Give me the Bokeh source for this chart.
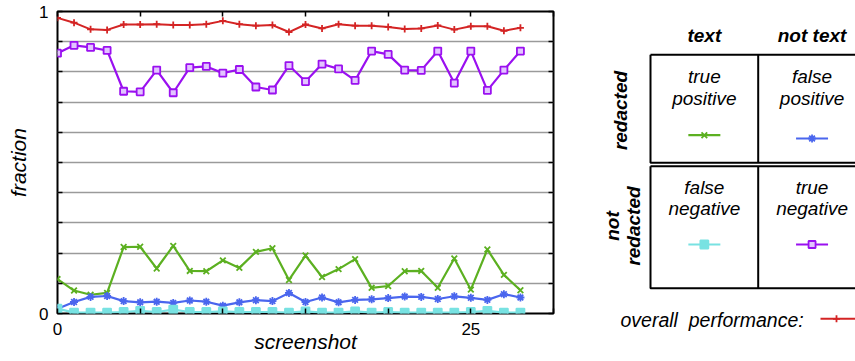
from bokeh.plotting import figure
from bokeh.models import Range1d, FixedTicker, LinearAxis
from bokeh.layouts import row
from bokeh.embed import file_html
from bokeh.resources import INLINE
from bokeh.core.properties import value

# ---------------- data ----------------
screenshot = list(range(29))
overall = [0.979, 0.963, 0.941, 0.939, 0.957, 0.957, 0.958, 0.955, 0.955, 0.958,
           0.969, 0.958, 0.953, 0.955, 0.932, 0.957, 0.944, 0.958, 0.953, 0.953,
           0.949, 0.942, 0.944, 0.954, 0.940, 0.951, 0.951, 0.936, 0.946]
true_negative = [0.862, 0.888, 0.881, 0.871, 0.736, 0.734, 0.806, 0.731, 0.814, 0.818,
                 0.796, 0.808, 0.750, 0.740, 0.821, 0.768, 0.826, 0.810, 0.772, 0.869,
                 0.858, 0.806, 0.805, 0.869, 0.763, 0.869, 0.739, 0.806, 0.869]
true_positive = [0.114, 0.076, 0.062, 0.068, 0.220, 0.221, 0.149, 0.224, 0.141, 0.140,
                 0.176, 0.151, 0.204, 0.216, 0.111, 0.192, 0.121, 0.147, 0.180, 0.085,
                 0.091, 0.140, 0.141, 0.085, 0.182, 0.079, 0.212, 0.128, 0.077]
false_positive = [0.016, 0.038, 0.055, 0.058, 0.041, 0.037, 0.039, 0.035, 0.043, 0.039,
                  0.026, 0.037, 0.044, 0.041, 0.068, 0.038, 0.053, 0.037, 0.045, 0.047,
                  0.051, 0.056, 0.055, 0.048, 0.057, 0.052, 0.045, 0.064, 0.053]
false_negative = [0.016, 0.003, 0.003, 0.003, 0.005, 0.009, 0.005, 0.013, 0.005, 0.005,
                  0.007, 0.005, 0.005, 0.005, 0.003, 0.007, 0.003, 0.003, 0.007, 0.003,
                  0.005, 0.003, 0.003, 0.003, 0.003, 0.005, 0.009, 0.003, 0.003]

x_ticks = [0, 5, 10, 15, 20, 25, 30]
x_tick_labels = ["0", "", "", "", "", "25", ""]
y_ticks = [0, 0.1, 0.2, 0.3, 0.4, 0.5, 0.6, 0.7, 0.8, 0.9, 1]
y_tick_labels = ["0", "", "", "", "", "", "", "", "", "", "1"]

col_headers = ["text", "not text"]
row_headers = [["redacted"], ["not", "redacted"]]
cell_texts = [["true", "positive"], ["false", "positive"],
              ["false", "negative"], ["true", "negative"]]
overall_label = "overall\u00a0 performance:"

FONT = "Liberation Sans"

styles = {
    "tp": dict(color="#5cb021", marker="x", size=8, lw=2.2, fill="#5cb021"),
    "fp": dict(color="#4a66ee", marker="asterisk", size=8, lw=2.2, fill="#4a66ee"),
    "fn": dict(color="#78e2e2", marker="square", size=8, lw=2.2, fill="#78e2e2"),
    "tn": dict(color="#9a10f0", marker="square", size=7, lw=2.2, fill="#e2c4ff"),
    "ov": dict(color="#d42424", marker="cross", size=7, lw=2.0, fill="#d42424"),
}
series = [("tp", true_positive), ("fp", false_positive), ("fn", false_negative),
          ("tn", true_negative), ("ov", overall)]

TOTAL_W, TOTAL_H = 855, 361
W1 = 560

# ---------------- main plot ----------------
p = figure(width=W1, height=TOTAL_H, x_range=Range1d(0, 30), y_range=Range1d(0, 1),
           output_backend="svg", toolbar_location=None,
           min_border_left=57, min_border_right=7, min_border_top=11, min_border_bottom=48)
p.frame_align = False
p.outline_line_color = "black"
p.outline_line_width = 2
p.background_fill_color = "white"
p.border_fill_color = "white"

p.xgrid.visible = False
p.ygrid.ticker = FixedTicker(ticks=y_ticks)
p.ygrid.grid_line_color = "#9a9a9a"
p.ygrid.grid_line_width = 1.5

for ax, ticks, labels in ((p.xaxis[0], x_ticks, x_tick_labels), (p.yaxis[0], y_ticks, y_tick_labels)):
    ax.ticker = FixedTicker(ticks=ticks)
    ax.major_label_overrides = dict(zip(ticks, labels))
    ax.major_tick_in = 5
    ax.major_tick_out = 0
    ax.major_tick_line_color = "black"
    ax.major_tick_line_width = 1.5
    ax.minor_tick_line_color = None
    ax.axis_line_color = None
    ax.major_label_text_font = FONT
    ax.major_label_text_font_size = "17px"
    ax.major_label_text_color = "black"
    ax.major_label_standoff = 9
    ax.axis_label_text_font = FONT
    ax.axis_label_text_font_style = "italic"
    ax.axis_label_text_font_size = "21px"
    ax.axis_label_text_color = "black"

p.xaxis.axis_label = "screenshot"
p.xaxis.axis_label_standoff = -8
p.yaxis.axis_label = "fraction"
p.yaxis.axis_label_standoff = 6

for side, ticks in (("above", x_ticks), ("right", y_ticks)):
    ax = LinearAxis(ticker=FixedTicker(ticks=ticks), major_tick_in=5, major_tick_out=0,
                    major_tick_line_width=1.5, minor_tick_line_color=None,
                    axis_line_color=None, major_label_text_font_size="0px",
                    major_label_standoff=0)
    p.add_layout(ax, side)

for key, vals in series:
    s = styles[key]
    p.line(screenshot, vals, line_color=s["color"], line_width=s["lw"])
    p.scatter(screenshot, vals, marker=s["marker"], size=s["size"],
              line_color=s["color"], fill_color=s["fill"], line_width=1.8)

# ---------------- legend table ----------------
LW, LH = TOTAL_W - W1, TOTAL_H
q = figure(width=LW, height=LH, x_range=Range1d(0, LW), y_range=Range1d(LH, 0),
           output_backend="svg", toolbar_location=None,
           x_axis_location=None, y_axis_location=None,
           min_border=0, min_border_left=0, min_border_right=0,
           min_border_top=0, min_border_bottom=0)
q.frame_align = False
q.grid.visible = False
q.outline_line_color = None

tbl_left, tbl_mid, tbl_right = 90, 197.7, 305.4
row_tops = [54.3, 165.7]
row_bots = [162.3, 287.7]
col_centers = [(tbl_left + tbl_mid) / 2, (tbl_mid + tbl_right) / 2]

# column headers
q.text(x=col_centers, y=[34.7, 34.7], text=col_headers,
       text_font=value(FONT), text_font_style="bold italic", text_font_size="19px",
       text_align="center", text_baseline="middle", text_color="black")

# boxes
for top, bot in zip(row_tops, row_bots):
    q.multi_line(xs=[[tbl_left, tbl_right, tbl_right, tbl_left, tbl_left], [tbl_mid, tbl_mid]],
                 ys=[[top, top, bot, bot, top], [top, bot]],
                 line_color="black", line_width=2)

# row headers (rotated)
q.text(x=[60], y=[110], text=row_headers[0],
       angle=1.5708, text_font=value(FONT), text_font_style="bold italic",
       text_font_size="19px", text_align="center", text_baseline="middle", text_color="black")
q.text(x=[51.7, 73.3], y=[225.5, 225.5], text=row_headers[1],
       angle=1.5708, text_font=value(FONT), text_font_style="bold italic",
       text_font_size="19px", text_align="center", text_baseline="middle", text_color="black")

# cell texts and sample lines
cell_keys = ["tp", "fp", "fn", "tn"]
sample_y = [134.7, 138, 244, 244]
text_y = [[76, 97.7], [76, 97.7], [186.7, 208.3], [186.7, 208.3]]
for i, key in enumerate(cell_keys):
    cx = col_centers[i % 2]
    q.text(x=[cx, cx], y=text_y[i], text=cell_texts[i],
           text_font=value(FONT), text_font_style="italic", text_font_size="19px",
           text_align="center", text_baseline="middle", text_color="black")
    s = styles[key]
    q.line([cx - 16, cx + 16], [sample_y[i]] * 2, line_color=s["color"], line_width=s["lw"])
    q.scatter([cx], [sample_y[i]], marker=s["marker"], size=s["size"],
              line_color=s["color"], fill_color=s["fill"], line_width=1.8)

# overall performance
q.text(x=[60], y=[319.3], text=[overall_label],
       text_font=value(FONT), text_font_style="italic", text_font_size="19.5px",
       text_align="left", text_baseline="middle", text_color="black")
s = styles["ov"]
q.line([260, 300], [318.3, 318.3], line_color=s["color"], line_width=s["lw"])
q.scatter([276], [318.3], marker=s["marker"], size=s["size"],
          line_color=s["color"], fill_color=s["fill"], line_width=1.8)

layout = row(p, q)
open("out.html", "w").write(file_html(layout, INLINE))
